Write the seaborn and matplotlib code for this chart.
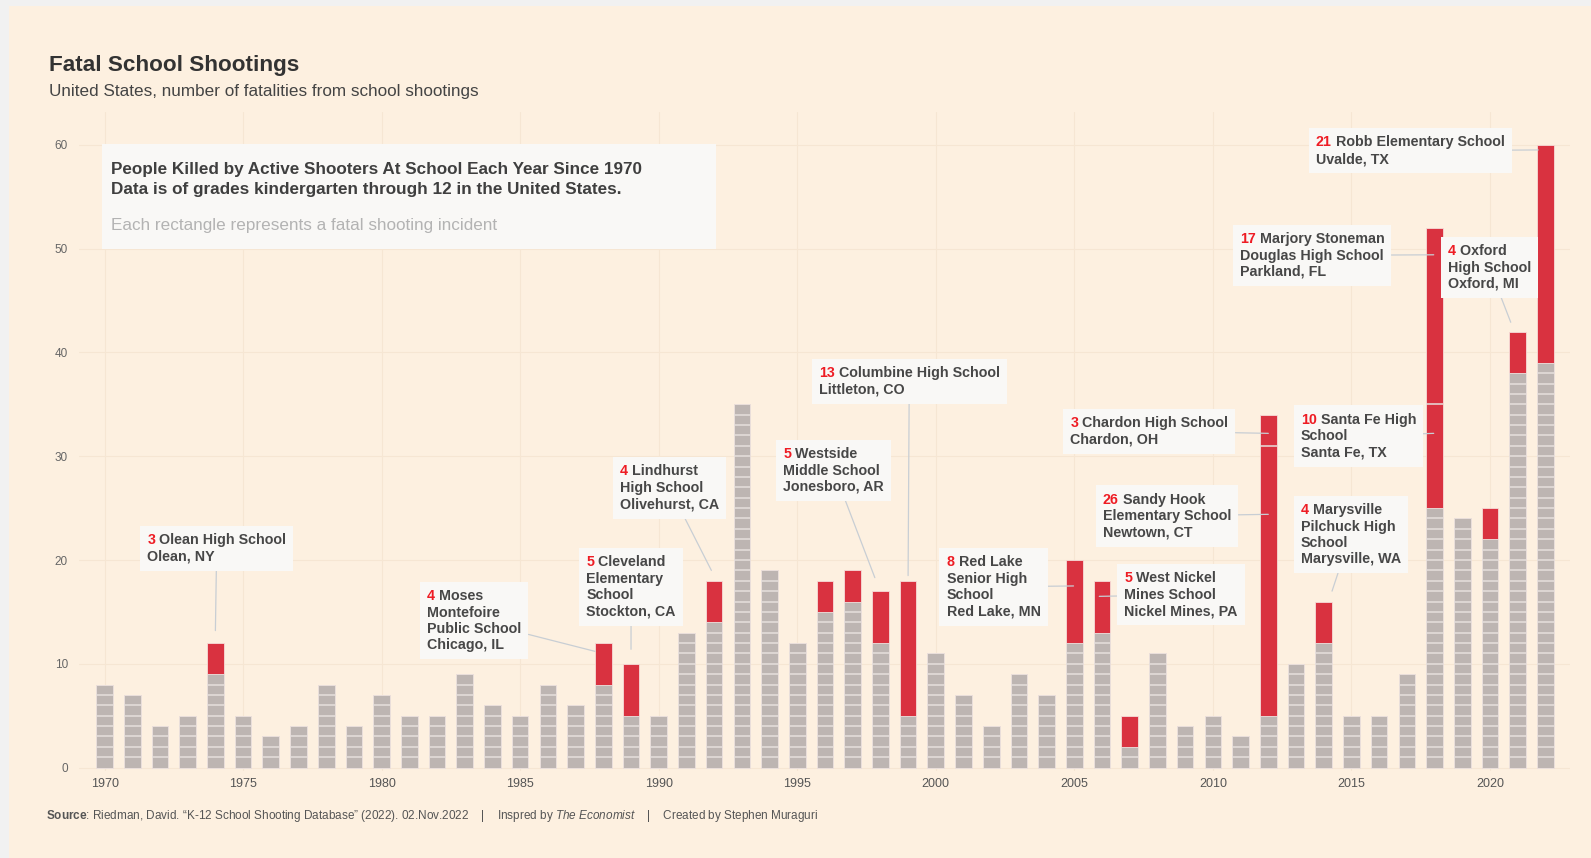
import matplotlib
matplotlib.use("Agg")
import matplotlib.pyplot as plt
from matplotlib.patches import Rectangle
from matplotlib.transforms import Bbox
import seaborn as sns
import pandas as pd

# ---------------- data ----------------
years = list(range(1970, 2023))
totals = [8, 7, 4, 5, 12, 5, 3, 4, 8, 4,
          7, 5, 5, 9, 6, 5, 8, 6, 12, 10,
          5, 13, 18, 35, 19, 12, 18, 19, 17, 18,
          11, 7, 4, 9, 7, 20, 18, 5, 11, 4,
          5, 3, 34, 10, 16, 5, 5, 9, 52, 24,
          25, 42, 60]

# highlighted incidents (stacked bottom -> top within a year)
inc_year = [1974, 1988, 1989, 1992, 1996, 1997, 1998, 1999, 2005, 2006, 2007,
            2012, 2012, 2014, 2018, 2018, 2020, 2021, 2022]
inc_killed = [3, 4, 5, 4, 3, 3, 5, 13, 8, 5, 3, 26, 3, 4, 10, 17, 3, 4, 21]
inc_label = [
    "Olean High School\nOlean, NY",
    "Moses\nMontefoire\nPublic School\nChicago, IL",
    "Cleveland\nElementary\nSchool\nStockton, CA",
    "Lindhurst\nHigh School\nOlivehurst, CA",
    "", "",
    "Westside\nMiddle School\nJonesboro, AR",
    "Columbine High School\nLittleton, CO",
    "Red Lake\nSenior High\nSchool\nRed Lake, MN",
    "West Nickel\nMines School\nNickel Mines, PA",
    "",
    "Sandy Hook\nElementary School\nNewtown, CT",
    "Chardon High School\nChardon, OH",
    "Marysville\nPilchuck High\nSchool\nMarysville, WA",
    "Santa Fe High\nSchool\nSanta Fe, TX",
    "Marjory Stoneman\nDouglas High School\nParkland, FL",
    "",
    "Oxford\nHigh School\nOxford, MI",
    "Robb Elementary School\nUvalde, TX",
]
tick_years = [1970, 1975, 1980, 1985, 1990, 1995, 2000, 2005, 2010, 2015, 2020]
y_ticks = [0, 10, 20, 30, 40, 50, 60]

# ---------------- layout for labels (text x, first-line baseline y, leader target x, y) ----------------
label_layout = {
    "Olean":      (1.54, 21.6, 4.0, 13.2),
    "Moses":      (11.64, 16.2, 17.7, 11.2),
    "Cleveland":  (17.39, 19.45, 19.0, 11.4),
    "Lindhurst":  (18.6, 28.2, 21.9, 19.0),
    "Westside":   (24.5, 29.9, 27.8, 18.3),
    "Columbine":  (25.78, 37.7, 29.0, 18.5),
    "Red Lake":   (30.39, 19.45, 34.97, 17.5),
    "West Nickel": (36.8, 17.9, 35.9, 16.5),
    "Sandy Hook": (36.03, 25.5, 42.0, 24.4),
    "Chardon":    (34.86, 32.9, 42.0, 32.2),
    "Marysville": (43.17, 24.5, 44.3, 17.0),
    "Santa Fe":   (43.17, 33.2, 47.97, 32.2),
    "Marjory":    (40.97, 50.6, 47.97, 49.4),
    "Oxford":     (48.48, 49.45, 50.75, 42.9),
    "Robb":       (43.72, 59.9, 51.74, 59.5),
}

# ---------------- derived table ----------------
red_by_year = {y: 0 for y in years}
for y, k in zip(inc_year, inc_killed):
    red_by_year[y] += k
df = pd.DataFrame({"year": years, "total": totals})
df["red"] = [red_by_year[y] for y in years]
df["grey"] = df["total"] - df["red"]

# ---------------- style ----------------
BG = "#FDF0E0"
GREY = "#BDB5B2"
RED = "#D93240"
SEP = "#E6E0DD"
BOX = "#F9F8F6"
NUMRED = "#EE1C24"
TXT = "#474747"

sns.set_theme(style="whitegrid", rc={
    "axes.facecolor": BG, "figure.facecolor": "#F1F1F1",
    "grid.color": "#F6E6D3", "grid.linewidth": 0.8,
    "axes.edgecolor": BG,
})
plt.rcParams["font.family"] = ["Liberation Sans", "DejaVu Sans"]
plt.rcParams["mathtext.fontset"] = "custom"
plt.rcParams["mathtext.rm"] = "Liberation Sans"
plt.rcParams["mathtext.it"] = "Liberation Sans:italic"
plt.rcParams["mathtext.bf"] = "Liberation Sans:bold"

fig = plt.figure(figsize=(15.91, 8.58), dpi=100)
fig.patches.append(Rectangle((9 / 1568, 0), 1, 1 - 6 / 846, transform=fig.transFigure,
                             facecolor=BG, edgecolor="none", zorder=-10))
ax = fig.add_axes([0.0497, 0.1017, 0.9373, 0.7683])
ax.set_facecolor(BG)

W = 0.6
sns.barplot(data=df, x="year", y="total", order=years, color=RED, saturation=1,
            width=W, errorbar=None, ax=ax, edgecolor="#F6DCD8", linewidth=0.6, zorder=2)
sns.barplot(data=df, x="year", y="grey", order=years, color=GREY, saturation=1,
            width=W, errorbar=None, ax=ax, edgecolor="#EDE4E0", linewidth=0.6, zorder=3)

# separators: every unit in grey part, incident boundaries in red part
sep_y, sep_x0, sep_x1 = [], [], []
cum = {y: g for y, g in zip(years, df["grey"])}
for i, (y, g) in enumerate(zip(years, df["grey"])):
    for k in range(1, g):
        sep_y.append(k); sep_x0.append(i - W / 2); sep_x1.append(i + W / 2)
for y, k in zip(inc_year, inc_killed):
    i = years.index(y)
    top = cum[y] + k
    if top < totals[i]:
        sep_y.append(top); sep_x0.append(i - W / 2); sep_x1.append(i + W / 2)
    cum[y] = top
ax.hlines(sep_y, sep_x0, sep_x1, colors=SEP, linewidth=1.1, zorder=4)

ax.set_xlim(-0.92, 52.9)
ax.set_ylim(-0.3, 63.2)
ax.set_xticks([years.index(t) for t in tick_years])
ax.set_xticklabels([str(t) for t in tick_years])
ax.set_yticks(y_ticks)
ax.set_yticklabels([str(t) for t in y_ticks])
ax.tick_params(axis="x", length=0, pad=5, labelsize=9, labelcolor="#555555")
ax.tick_params(axis="y", length=0, pad=8, labelsize=8.5, labelcolor="#666666")
ax.set_xlabel("")
ax.set_ylabel("")
for s in ax.spines.values():
    s.set_visible(False)
ax.grid(True, color="#F6E6D3", linewidth=0.8)
ax.set_axisbelow(True)

# ---------------- annotations ----------------
keys = ["Olean", "Moses", "Cleveland", "Lindhurst", None, None, "Westside", "Columbine",
        "Red Lake", "West Nickel", None, "Sandy Hook", "Chardon", "Marysville",
        "Santa Fe", "Marjory", None, "Oxford", "Robb"]
FS = 10.3
afont = dict(fontsize=FS, fontweight="bold", family=["Liberation Sans", "DejaVu Sans"])
groups = []
for key, k, lab in zip(keys, inc_killed, inc_label):
    if key is None:
        continue
    tx, ty, px, py = label_layout[key]
    lines = lab.split("\n")
    t_num = ax.text(tx, ty + 1.0, f"{k}", ha="left", va="top", color=NUMRED,
                    zorder=7, **afont)
    t_first = ax.annotate(" " + lines[0], xy=(1, 1), xycoords=t_num, ha="left",
                          va="top", color=TXT, zorder=7, **afont)
    parts = [t_num, t_first]
    if len(lines) > 1:
        t_rest = ax.annotate("\n".join(lines[1:]), xy=(0, 0), xycoords=t_num,
                             xytext=(0, -0.2 * FS * 0.94), textcoords="offset points",
                             ha="left", va="top", color=TXT, zorder=7,
                             linespacing=1.2, **afont)
        parts.append(t_rest)
    groups.append((parts, px, py))

fig.canvas.draw()
renderer = fig.canvas.get_renderer()
pad_px = 0.5 * FS * fig.dpi / 72.0
inv = ax.transData.inverted()
for parts, px, py in groups:
    bb = Bbox.union([p.get_window_extent(renderer) for p in parts])
    (x0, y0) = inv.transform((bb.x0 - pad_px, bb.y0 - pad_px))
    (x1, y1) = inv.transform((bb.x1 + pad_px, bb.y1 + pad_px))
    rect = Rectangle((x0, y0), x1 - x0, y1 - y0, facecolor=BOX, edgecolor="none",
                     zorder=6)
    ax.add_patch(rect)
    ax.annotate("", xy=(px, py), xytext=((x0 + x1) / 2, (y0 + y1) / 2),
                textcoords="data", zorder=5.5,
                arrowprops=dict(arrowstyle="-", color="#C8CED4", lw=0.9,
                                patchA=rect, shrinkA=0, shrinkB=0))

# info box
ax.add_patch(Rectangle((0.0156, 0.791), 0.4114, 0.160, transform=ax.transAxes,
                       facecolor=BOX, edgecolor="none", zorder=6))
ax.text(0.0211, 0.906, "People Killed by Active Shooters At School Each Year Since 1970",
        transform=ax.transAxes, fontsize=12.3, fontweight="bold", color="#3f3f3f",
        va="baseline", ha="left", zorder=7)
ax.text(0.0211, 0.875, "Data is of grades kindergarten through 12 in the United States.",
        transform=ax.transAxes, fontsize=12.3, fontweight="bold", color="#3f3f3f",
        va="baseline", ha="left", zorder=7)
ax.text(0.0211, 0.820, "Each rectangle represents a fatal shooting incident",
        transform=ax.transAxes, fontsize=12.3, color="#B3B3B3",
        va="baseline", ha="left", zorder=7)

# titles
fig.text(0.0306, 0.917, "Fatal School Shootings", fontsize=16.2, fontweight="bold",
         color="#333333", va="baseline", ha="left")
fig.text(0.0306, 0.888, "United States, number of fatalities from school shootings",
         fontsize=12.3, color="#444444", va="baseline", ha="left")
fig.text(0.0287, 0.046,
         r"$\mathbf{Source}$: Riedman, David. “K-12 School Shooting Database” (2022). 02.Nov.2022"
         r"    |    Inspred by $\mathit{The\ Economist}$    |    Created by Stephen Muraguri",
         fontsize=8.5, color="#555555", va="baseline", ha="left")

fig.savefig("out.png", dpi=100, facecolor=fig.get_facecolor())
